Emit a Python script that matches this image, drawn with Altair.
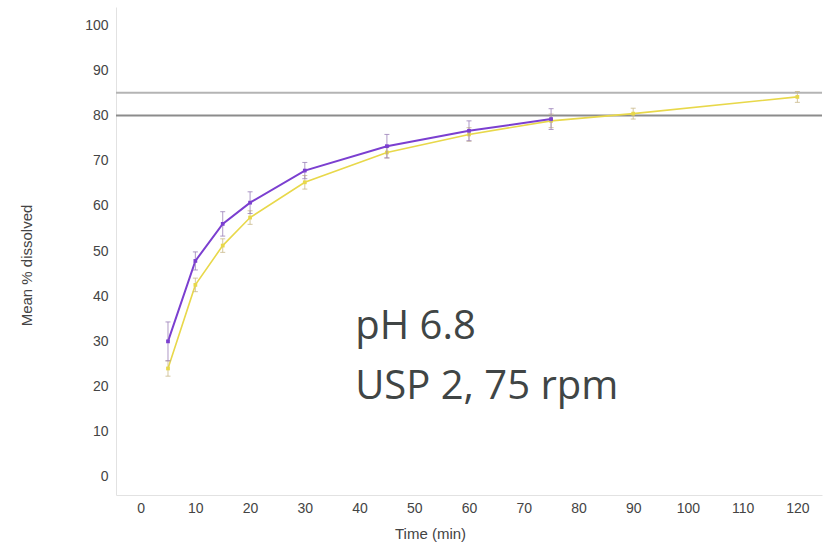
import altair as alt
import pandas as pd

# ---- data ----
purple_t = [5, 10, 15, 20, 30, 45, 60, 75]
purple_y = [30.0, 47.8, 56.0, 60.7, 67.8, 73.2, 76.6, 79.2]
purple_e = [4.3, 2.0, 2.7, 2.4, 1.8, 2.6, 2.2, 2.3]

yellow_t = [5, 10, 15, 20, 30, 45, 60, 75, 90, 120]
yellow_y = [24.0, 42.5, 51.2, 57.4, 65.2, 71.8, 75.8, 78.8, 80.4, 84.1]
yellow_e = [1.7, 1.5, 1.5, 1.5, 1.5, 1.2, 1.5, 1.5, 1.2, 1.2]

ref_levels = [85, 80]
ref_colors = ["#b4b4b4", "#8c8c8c"]

x_ticks = list(range(0, 121, 10))
y_ticks = list(range(0, 101, 10))

notes = ["pH 6.8", "USP 2, 75 rpm"]
note_x = [39.2, 39.2]
note_y = [33.2, 19.8]

PURPLE = "#7b3fd0"
YELLOW = "#e8d84a"

def frame(t, y, e, name):
    return pd.DataFrame({
        "t": t, "y": y,
        "lo": [a - b for a, b in zip(y, e)],
        "hi": [a + b for a, b in zip(y, e)],
        "s": name,
    })

dp = frame(purple_t, purple_y, purple_e, "A")
dy = frame(yellow_t, yellow_y, yellow_e, "B")

xs = alt.Scale(domain=[-4.5, 124.5], nice=False, zero=False)
ys = alt.Scale(domain=[-4, 104], nice=False, zero=False)

xenc = alt.X("t:Q", scale=xs, axis=alt.Axis(
    values=x_ticks, title="Time (min)", ticks=False, grid=False,
    domainColor="#e2e2e2", labelColor="#444444", labelFontSize=14,
    labelFont="Liberation Sans", labelPadding=6,
    titleFont="Liberation Sans", titleFontSize=15, titleFontWeight="normal",
    titleColor="#444444", titleX=314, titleY=38, titleBaseline="middle",
    titleAnchor="middle"))
yenc = alt.Y("y:Q", scale=ys, axis=alt.Axis(
    values=y_ticks, title="Mean % dissolved", ticks=False, grid=False,
    domainColor="#e2e2e2", labelColor="#444444", labelFontSize=14,
    labelFont="Liberation Sans", labelPadding=8,
    titleFont="Liberation Sans", titleFontSize=15, titleFontWeight="normal",
    titleColor="#444444", titleX=-90, titleY=258, titleBaseline="middle",
    titleAnchor="middle"))

refs = alt.Chart(pd.DataFrame({"v": ref_levels, "c": ref_colors})).mark_rule(
    strokeWidth=2).encode(
    y=alt.Y("v:Q", scale=ys),
    color=alt.Color("c:N", scale=None))

def series(df, color, width, err_color):
    base = alt.Chart(df)
    line = base.mark_line(color=color, strokeWidth=width).encode(x=xenc, y=yenc)
    err = base.mark_rule(color=err_color, strokeWidth=1, opacity=0.8).encode(
        x=alt.X("t:Q", scale=xs), y=alt.Y("lo:Q", scale=ys), y2="hi:Q")
    cap_lo = base.mark_tick(color=err_color, size=5, thickness=1, orient="horizontal", opacity=0.8).encode(
        x=alt.X("t:Q", scale=xs), y=alt.Y("lo:Q", scale=ys))
    cap_hi = base.mark_tick(color=err_color, size=5, thickness=1, orient="horizontal", opacity=0.8).encode(
        x=alt.X("t:Q", scale=xs), y=alt.Y("hi:Q", scale=ys))
    pts = base.mark_point(color=color, filled=True, size=14, shape="square", opacity=1).encode(
        x=alt.X("t:Q", scale=xs), y=alt.Y("y:Q", scale=ys))
    return [line, err, cap_lo, cap_hi, pts]

text = alt.Chart(pd.DataFrame({"x": note_x, "y": note_y, "txt": notes})).mark_text(
    align="left", baseline="middle", font="Open Sans", fontSize=40, color="#404545").encode(
    x=alt.X("x:Q", scale=xs), y=alt.Y("y:Q", scale=ys), text="txt:N")

layers = [refs] + series(dy, YELLOW, 1.6, "#c9b98a") + series(dp, PURPLE, 2, "#9a7fb8") + [text]

chart = alt.layer(*layers).properties(
    width=706, height=488,
    background="white",
    autosize=alt.AutoSizeParams(type="none"),
    padding={"left": 116, "top": 7, "right": 4, "bottom": 49},
).configure_view(strokeWidth=0, stroke="transparent")

chart.save("out.html", embed_options={"renderer": "svg", "actions": False})
